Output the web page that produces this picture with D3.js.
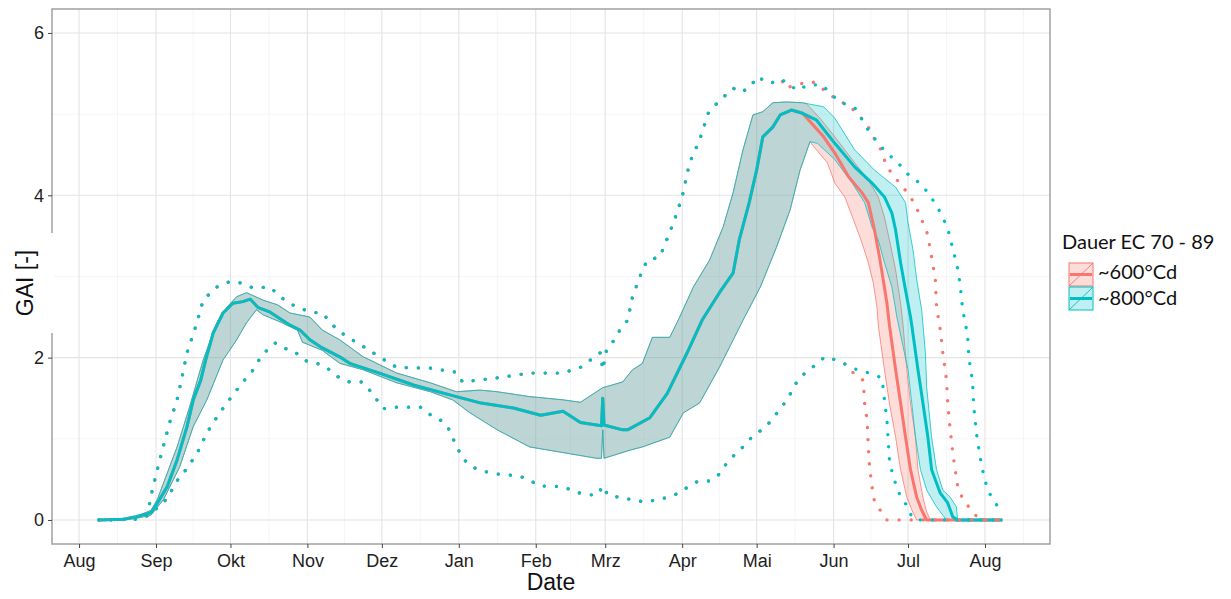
<!DOCTYPE html>
<html>
<head>
<meta charset="utf-8">
<script src="https://cdn.jsdelivr.net/npm/d3@7"></script>
<style>
  html, body { margin: 0; padding: 0; background: #fff; }
  svg { display: block; }
</style>
</head>
<body>
<svg id="chart" width="1231" height="599"></svg>
<script>
// Green area index over one season; each point is [days since 1 Aug, GAI].
// ~800°Cd scenario
const med800 = [[8,0],[18,0.01],[23,0.04],[29,0.09],[31,0.18],[35.5,0.41],[39.5,0.74],[43.5,1.15],[46,1.48],[49,1.72],[51,1.97],[54,2.30],[58,2.55],[62,2.67],[66,2.69],[69,2.72],[72,2.62],[77,2.56],[85,2.40],[89,2.34],[93,2.22],[98,2.12],[105,2.01],[109,1.93],[121,1.81],[135,1.66],[152,1.52],[162,1.44],[175,1.38],[186,1.29],[195,1.34],[202,1.20],[210.5,1.16],[211,1.50],[211.5,1.17],[219,1.11],[221,1.11],[230,1.26],[237,1.56],[245,2.06],[251,2.46],[258,2.80],[263.5,3.04],[266,3.45],[270,3.91],[273,4.31],[275.5,4.72],[279.5,4.84],[282.5,4.99],[287,5.05],[291.5,5.01],[297,4.93],[304.5,4.64],[312.5,4.35],[319.5,4.15],[324.5,3.98],[327.5,3.78],[329,3.57],[331,3.17],[333,2.83],[335,2.50],[335.5,2.40],[338,1.85],[340,1.44],[342,1.02],[343.5,0.62],[347,0.33],[350,0.21],[352,0.04],[354,0],[372,0]];
const upr800 = [[8,0],[18,0.01],[23,0.04],[29,0.12],[31.5,0.25],[39.5,0.90],[44.5,1.39],[50,1.97],[55.5,2.43],[59.5,2.62],[63.5,2.75],[67.5,2.80],[74,2.71],[80,2.65],[85,2.55],[93,2.50],[98,2.34],[105,2.22],[114.5,2.01],[128,1.81],[141.5,1.69],[152,1.58],[161.5,1.60],[168.5,1.58],[181.5,1.52],[195,1.48],[202,1.45],[208.5,1.58],[211,1.63],[219,1.70],[223,1.85],[227,1.93],[231,2.25],[238,2.25],[242,2.50],[247.5,2.87],[254,3.20],[259.5,3.61],[263.5,4.03],[267.5,4.56],[271.5,4.99],[275.5,5.03],[279.5,5.14],[285,5.15],[291.5,5.14],[300,5.09],[304.5,4.95],[312.5,4.56],[320.5,4.31],[329,4.10],[333,3.91],[334,3.66],[336,3.33],[337.5,2.96],[339.5,2.59],[341,2.06],[341.5,1.64],[343.5,1.02],[345.5,0.62],[348,0.37],[351,0.28],[353.5,0.16],[354,0],[372,0]];
const lwr800 = [[8,0],[18,0],[23,0.02],[29,0.06],[34,0.25],[40.5,0.65],[46,1.15],[51.5,1.48],[58,1.97],[63.5,2.22],[67.5,2.43],[71.5,2.59],[74,2.53],[81,2.44],[88,2.34],[90,2.19],[98,2.09],[105,1.93],[114.5,1.85],[128,1.69],[141.5,1.58],[150.5,1.48],[157.5,1.32],[168.5,1.11],[181.5,0.90],[195,0.83],[208.5,0.76],[210.5,0.76],[211,1.11],[211.5,0.76],[222,0.86],[227,0.90],[238,1.02],[243.5,1.32],[250,1.44],[258,1.88],[267.5,2.46],[274.5,2.87],[281,3.36],[286.5,3.82],[290.5,4.31],[294.5,4.66],[297.5,4.64],[304.5,4.44],[311.5,4.15],[316.5,3.91],[319.5,3.61],[322,3.45],[324.5,3.17],[327.5,2.87],[329.5,2.50],[331,2.28],[334,1.85],[335.5,1.44],[337,1.02],[339,0.62],[341.5,0.37],[345.5,0.16],[349.5,0],[372,0]];
const max800 = [[8,0],[20.5,0.01],[27.5,0.06],[29.5,0.37],[32.5,0.74],[36.5,1.20],[39.5,1.48],[41.5,1.76],[43.5,2.06],[47.5,2.43],[50,2.71],[55.5,2.87],[61,2.94],[65,2.92],[70,2.86],[77,2.87],[81,2.75],[86,2.65],[93,2.56],[98,2.55],[104,2.34],[109,2.24],[117,2.09],[121,2.01],[128,1.88],[141.5,1.87],[152,1.82],[154.5,1.70],[168.5,1.75],[181.5,1.81],[195,1.81],[202,1.88],[210,2.06],[211,1.85],[212.5,2.09],[215,2.19],[217,2.30],[221,2.46],[223,2.75],[227,3.08],[229,3.20],[234,3.24],[239.5,3.66],[243,3.98],[246,4.40],[250,4.68],[253.5,5.01],[257.5,5.15],[263.5,5.32],[266.5,5.27],[270.5,5.33],[273,5.46],[278.5,5.38],[283,5.43],[289.5,5.29],[293.5,5.36],[299.5,5.36],[302.5,5.26],[306.5,5.15],[312.5,5.08],[315.5,4.93],[318,4.80],[322,4.64],[325.5,4.52],[330,4.40],[333.5,4.27],[337.5,4.18],[341,4.07],[344.5,3.92],[347,3.79],[349,3.66],[351,3.49],[352,3.33],[353.5,3.18],[355,2.90],[356,2.59],[358,2.28],[358.5,2.00],[360,1.70],[360.5,1.39],[361.5,1.08],[363,0.78],[364,0.62],[366,0.37],[369,0.22],[372,0.08]];
const min800 = [[8,0],[24.5,0.01],[28,0.06],[32,0.16],[36,0.28],[38,0.41],[40.5,0.53],[44,0.65],[46.5,0.78],[49,0.90],[51,1.05],[53.5,1.17],[56,1.29],[59.5,1.44],[63,1.58],[66,1.70],[69.5,1.82],[72,1.95],[75,2.07],[79,2.18],[82,2.12],[86,2.09],[92,1.95],[96,1.93],[100,1.87],[104.5,1.76],[109,1.70],[114,1.70],[117,1.60],[120,1.48],[122.5,1.37],[127.5,1.39],[137.5,1.39],[140.5,1.31],[144.5,1.26],[148.5,1.15],[150.5,1.01],[152.5,0.89],[154.5,0.76],[158.5,0.65],[163,0.60],[167.5,0.57],[177.5,0.54],[181.5,0.49],[185.5,0.42],[195,0.41],[200.5,0.34],[205,0.31],[209,0.31],[211,0.42],[213,0.31],[219,0.27],[223,0.25],[228,0.22],[233,0.25],[237.5,0.28],[241.5,0.33],[245.5,0.41],[249.5,0.48],[254,0.48],[257.5,0.55],[260.5,0.68],[264,0.80],[267.5,0.90],[271,1.02],[275,1.11],[278.5,1.21],[281.5,1.33],[284.5,1.45],[287.5,1.60],[289.5,1.72],[292.5,1.81],[295.5,1.88],[300.5,2.01],[305,1.97],[309.5,1.91],[313.5,1.85],[318.5,1.81],[323.5,1.75],[324.5,1.48],[325.5,1.23],[326,0.99],[326.5,0.74],[328,0.53],[329.5,0.41],[331,0.28],[333.5,0.18],[335.5,0.04],[337,0],[372,0]];

// ~600°Cd scenario (identical to ~800°Cd until late May)
const med600 = [[8,0],[18,0.01],[23,0.04],[29,0.09],[31,0.18],[35.5,0.41],[39.5,0.74],[43.5,1.15],[46,1.48],[49,1.72],[51,1.97],[54,2.30],[58,2.55],[62,2.67],[66,2.69],[69,2.72],[72,2.62],[77,2.56],[85,2.40],[89,2.34],[93,2.22],[98,2.12],[105,2.01],[109,1.93],[121,1.81],[135,1.66],[152,1.52],[162,1.44],[175,1.38],[186,1.29],[195,1.34],[202,1.20],[210.5,1.16],[211,1.50],[211.5,1.17],[219,1.11],[221,1.11],[230,1.26],[237,1.56],[245,2.06],[251,2.46],[258,2.80],[263.5,3.04],[266,3.45],[270,3.91],[273,4.31],[275.5,4.72],[279.5,4.84],[282.5,4.99],[287,5.05],[291.5,5.01],[293,4.96],[300,4.72],[304.5,4.52],[310,4.23],[315.5,4.03],[318,3.91],[320.5,3.57],[322.5,3.24],[324,2.96],[325.5,2.67],[326.5,2.40],[329,1.85],[331,1.44],[333,1.02],[335,0.62],[337.5,0.28],[339.5,0.12],[341.5,0],[372,0]];
const upr600 = [[8,0],[18,0.01],[23,0.04],[29,0.12],[31.5,0.25],[39.5,0.90],[44.5,1.39],[50,1.97],[55.5,2.43],[59.5,2.62],[63.5,2.75],[67.5,2.80],[74,2.71],[80,2.65],[85,2.55],[93,2.50],[98,2.34],[105,2.22],[114.5,2.01],[128,1.81],[141.5,1.69],[152,1.58],[161.5,1.60],[168.5,1.58],[181.5,1.52],[195,1.48],[202,1.45],[208.5,1.58],[211,1.63],[219,1.70],[223,1.85],[227,1.93],[231,2.25],[238,2.25],[242,2.50],[247.5,2.87],[254,3.20],[259.5,3.61],[263.5,4.03],[267.5,4.56],[271.5,4.99],[275.5,5.03],[279.5,5.14],[285,5.15],[291.5,5.14],[293,5.13],[298.5,4.95],[304.5,4.72],[312.5,4.40],[318,4.19],[322,3.98],[324.5,3.73],[326.5,3.45],[329,3.08],[331,2.67],[332,2.40],[333.5,1.85],[335,1.44],[337,1.02],[338,0.62],[340,0.28],[341.5,0.10],[343,0],[372,0]];
const lwr600 = [[8,0],[18,0],[23,0.02],[29,0.06],[34,0.25],[40.5,0.65],[46,1.15],[51.5,1.48],[58,1.97],[63.5,2.22],[67.5,2.43],[71.5,2.59],[74,2.53],[81,2.44],[88,2.34],[90,2.19],[98,2.09],[105,1.93],[114.5,1.85],[128,1.69],[141.5,1.58],[150.5,1.48],[157.5,1.32],[168.5,1.11],[181.5,0.90],[195,0.83],[208.5,0.76],[210.5,0.76],[211,1.11],[211.5,0.76],[222,0.86],[227,0.90],[238,1.02],[243.5,1.32],[250,1.44],[258,1.88],[267.5,2.46],[274.5,2.87],[281,3.36],[286.5,3.82],[290.5,4.31],[294.5,4.66],[296,4.60],[301.5,4.40],[304.5,4.15],[308.5,3.98],[312.5,3.66],[315.5,3.41],[318,3.17],[320,2.92],[321.5,2.62],[322,2.40],[324.5,1.85],[326.5,1.44],[329,1.02],[331,0.62],[333.5,0.28],[336,0.09],[337.5,0],[372,0]];
const max600 = [[8,0],[20.5,0.01],[27.5,0.06],[29.5,0.37],[32.5,0.74],[36.5,1.20],[39.5,1.48],[41.5,1.76],[43.5,2.06],[47.5,2.43],[50,2.71],[55.5,2.87],[61,2.94],[65,2.92],[70,2.86],[77,2.87],[81,2.75],[86,2.65],[93,2.56],[98,2.55],[104,2.34],[109,2.24],[117,2.09],[121,2.01],[128,1.88],[141.5,1.87],[152,1.82],[154.5,1.70],[168.5,1.75],[181.5,1.81],[195,1.81],[202,1.88],[210,2.06],[211,1.85],[212.5,2.09],[215,2.19],[217,2.30],[221,2.46],[223,2.75],[227,3.08],[229,3.20],[234,3.24],[239.5,3.66],[243,3.98],[246,4.40],[250,4.68],[253.5,5.01],[257.5,5.15],[263.5,5.32],[266.5,5.27],[270.5,5.33],[273,5.46],[278.5,5.38],[283,5.43],[284.5,5.32],[291.5,5.38],[295.5,5.40],[301.5,5.27],[305.5,5.17],[310,5.11],[313.5,5.01],[317.5,4.87],[320,4.72],[322.5,4.60],[325.5,4.35],[329,4.21],[332,4.10],[335,3.98],[337.5,3.84],[339.5,3.70],[341.5,3.56],[342.5,3.41],[343.5,3.24],[345,2.96],[345.5,2.62],[347,2.34],[348,2.06],[349.5,1.72],[350,1.44],[351,1.11],[352,0.83],[353,0.62],[354,0.41],[356,0.26],[360,0.10],[363,0],[372,0]];
const min600 = [[8,0],[24.5,0.01],[28,0.06],[32,0.16],[36,0.28],[38,0.41],[40.5,0.53],[44,0.65],[46.5,0.78],[49,0.90],[51,1.05],[53.5,1.17],[56,1.29],[59.5,1.44],[63,1.58],[66,1.70],[69.5,1.82],[72,1.95],[75,2.07],[79,2.18],[82,2.12],[86,2.09],[92,1.95],[96,1.93],[100,1.87],[104.5,1.76],[109,1.70],[114,1.70],[117,1.60],[120,1.48],[122.5,1.37],[127.5,1.39],[137.5,1.39],[140.5,1.31],[144.5,1.26],[148.5,1.15],[150.5,1.01],[152.5,0.89],[154.5,0.76],[158.5,0.65],[163,0.60],[167.5,0.57],[177.5,0.54],[181.5,0.49],[185.5,0.42],[195,0.41],[200.5,0.34],[205,0.31],[209,0.31],[211,0.42],[213,0.31],[219,0.27],[223,0.25],[228,0.22],[233,0.25],[237.5,0.28],[241.5,0.33],[245.5,0.41],[249.5,0.48],[254,0.48],[257.5,0.55],[260.5,0.68],[264,0.80],[267.5,0.90],[271,1.02],[275,1.11],[278.5,1.21],[281.5,1.33],[284.5,1.45],[287.5,1.60],[289.5,1.72],[292.5,1.81],[295.5,1.88],[300.5,2.01],[305,1.97],[309.5,1.91],[312.5,1.79],[316,1.72],[316.5,1.44],[317.5,1.23],[318,0.90],[318.5,0.65],[319.5,0.41],[320.5,0.22],[323.5,0.09],[325.5,0],[372,0]];

const monthLabels = ["Aug","Sep","Okt","Nov","Dez","Jan","Feb","Mrz","Apr","Mai","Jun","Jul","Aug"];
const yTicks = [0, 2, 4, 6];
const yMinor = [1, 3, 5];
const seriesNames = ["~600°Cd", "~800°Cd"];
const seriesColors = ["#F8766D", "#00BFC4"];
const legendTitle = "Dauer EC 70 - 89";

const series = [
  { name: seriesNames[0], color: seriesColors[0], median: med600, upper: upr600, lower: lwr600, max: max600, min: min600 },
  { name: seriesNames[1], color: seriesColors[1], median: med800, upper: upr800, lower: lwr800, max: max800, min: min800 }
];

const svg = d3.select("#chart");
const W = 1231, H = 599;
const panel = { left: 52, right: 1050, top: 9, bottom: 544 };

const season0 = Date.UTC(2014, 7, 1);
const dayToDate = d => new Date(season0 + d * 864e5);

const x = d3.scaleUtc()
  .domain([dayToDate(-10.9), dayToDate(391.2)])
  .range([panel.left, panel.right]);
const y = d3.scaleLinear()
  .domain([-0.296, 6.295])
  .range([panel.bottom, panel.top]);

svg.append("rect").attr("width", W).attr("height", H).attr("fill", "#fff");

svg.append("defs").append("clipPath").attr("id", "panel-clip")
  .append("rect")
  .attr("x", panel.left).attr("y", panel.top)
  .attr("width", panel.right - panel.left).attr("height", panel.bottom - panel.top);

// grid
const monthTicks = d3.utcMonth.range(dayToDate(0), dayToDate(366));
const minorX = [];
for (let i = 0; i < monthTicks.length - 1; i++) {
  minorX.push(new Date((+monthTicks[i] + +monthTicks[i + 1]) / 2));
}
const lastGap = +monthTicks[monthTicks.length - 1] - +monthTicks[monthTicks.length - 2];
minorX.push(new Date(+monthTicks[monthTicks.length - 1] + lastGap / 2));

const grid = svg.append("g").attr("clip-path", "url(#panel-clip)");
grid.selectAll("line.xminor").data(minorX).join("line")
  .attr("x1", d => x(d)).attr("x2", d => x(d))
  .attr("y1", panel.top).attr("y2", panel.bottom)
  .attr("stroke", "#f2f2f2").attr("stroke-width", 0.8);
grid.selectAll("line.yminor").data(yMinor).join("line")
  .attr("x1", panel.left).attr("x2", panel.right)
  .attr("y1", d => y(d)).attr("y2", d => y(d))
  .attr("stroke", "#f2f2f2").attr("stroke-width", 0.8);
grid.selectAll("line.xmajor").data(monthTicks).join("line")
  .attr("x1", d => x(d)).attr("x2", d => x(d))
  .attr("y1", panel.top).attr("y2", panel.bottom)
  .attr("stroke", "#e4e4e4").attr("stroke-width", 1.1);
grid.selectAll("line.ymajor").data(yTicks).join("line")
  .attr("x1", panel.left).attr("x2", panel.right)
  .attr("y1", d => y(d)).attr("y2", d => y(d))
  .attr("stroke", "#e4e4e4").attr("stroke-width", 1.1);

// data layers
const px = d => x(dayToDate(d[0]));
const py = d => y(d[1]);
const line = d3.line().x(px).y(py);
const plot = svg.append("g").attr("clip-path", "url(#panel-clip)");

const ribbons = plot.append("g");
series.forEach(s => {
  const poly = s.upper.concat(s.lower.slice().reverse());
  ribbons.append("path")
    .attr("d", line(poly) + "Z")
    .attr("fill", s.color).attr("fill-opacity", 0.25).attr("stroke", "none");
  [s.upper, s.lower].forEach(edge => {
    ribbons.append("path")
      .attr("d", line(edge))
      .attr("fill", "none").attr("stroke", s.color)
      .attr("stroke-width", 0.9).attr("stroke-opacity", 0.85);
  });
});

const medians = plot.append("g");
series.forEach(s => {
  medians.append("path")
    .attr("d", line(s.median))
    .attr("fill", "none").attr("stroke", s.color)
    .attr("stroke-width", 3).attr("stroke-linejoin", "round");
});

const extremes = plot.append("g");
series.forEach(s => {
  [s.max, s.min].forEach(edge => {
    extremes.append("path")
      .attr("d", line(edge))
      .attr("fill", "none").attr("stroke", s.color)
      .attr("stroke-width", 3.3).attr("stroke-linecap", "round")
      .attr("stroke-dasharray", "0.1 12");
  });
});

// panel border
svg.append("rect")
  .attr("x", panel.left).attr("y", panel.top)
  .attr("width", panel.right - panel.left).attr("height", panel.bottom - panel.top)
  .attr("fill", "none").attr("stroke", "#9a9a9a").attr("stroke-width", 1.4);

// axes
const axisFont = "'Liberation Sans', Arial, Helvetica, sans-serif";
const xAxis = svg.append("g")
  .attr("transform", `translate(0,${panel.bottom})`)
  .call(d3.axisBottom(x).tickValues(monthTicks)
    .tickFormat((d, i) => monthLabels[i]).tickSize(4).tickPadding(6));
const yAxis = svg.append("g")
  .attr("transform", `translate(${panel.left},0)`)
  .call(d3.axisLeft(y).tickValues(yTicks).tickFormat(d3.format("d"))
    .tickSize(4).tickPadding(4));
[xAxis, yAxis].forEach(g => {
  g.select(".domain").remove();
  g.selectAll(".tick line").attr("stroke", "#444").attr("stroke-width", 1);
  g.selectAll(".tick text")
    .attr("fill", "#1e1e1e")
    .style("font-family", axisFont).style("font-size", "18px");
});

// strip over the left border behind the axis title
svg.append("rect")
  .attr("x", 0).attr("y", 233).attr("width", 54).attr("height", 100)
  .attr("fill", "#fff");

svg.append("text")
  .attr("transform", `translate(33,283) rotate(-90)`)
  .attr("text-anchor", "middle")
  .style("font-family", axisFont).style("font-size", "23px")
  .attr("fill", "#111")
  .text("GAI [-]");

svg.append("text")
  .attr("x", (panel.left + panel.right) / 2).attr("y", 590)
  .attr("text-anchor", "middle")
  .style("font-family", axisFont).style("font-size", "23px")
  .attr("fill", "#111")
  .text("Date");

// legend
const legendFont = "Lato, 'Open Sans', sans-serif";
const legend = svg.append("g");
legend.append("text")
  .attr("x", 1062).attr("y", 249)
  .style("font-family", legendFont).style("font-size", "20px")
  .attr("fill", "#111")
  .text(legendTitle);

series.forEach((s, i) => {
  const ky = 263 + i * 24, kx = 1069, kw = 24, kh = 23;
  const key = legend.append("g");
  key.append("rect")
    .attr("x", kx).attr("y", ky).attr("width", kw).attr("height", kh)
    .attr("fill", s.color).attr("fill-opacity", 0.25)
    .attr("stroke", s.color).attr("stroke-width", 1);
  key.append("line")
    .attr("x1", kx).attr("y1", ky + kh).attr("x2", kx + kw).attr("y2", ky)
    .attr("stroke", s.color).attr("stroke-width", 0.9);
  key.append("line")
    .attr("x1", kx + 1).attr("y1", ky + kh / 2).attr("x2", kx + kw - 1).attr("y2", ky + kh / 2)
    .attr("stroke", s.color).attr("stroke-width", 3);
  legend.append("text")
    .attr("x", 1098).attr("y", 279 + i * 26)
    .style("font-family", legendFont).style("font-size", "20px")
    .attr("fill", "#111")
    .text(s.name);
});
</script>
</body>
</html>
